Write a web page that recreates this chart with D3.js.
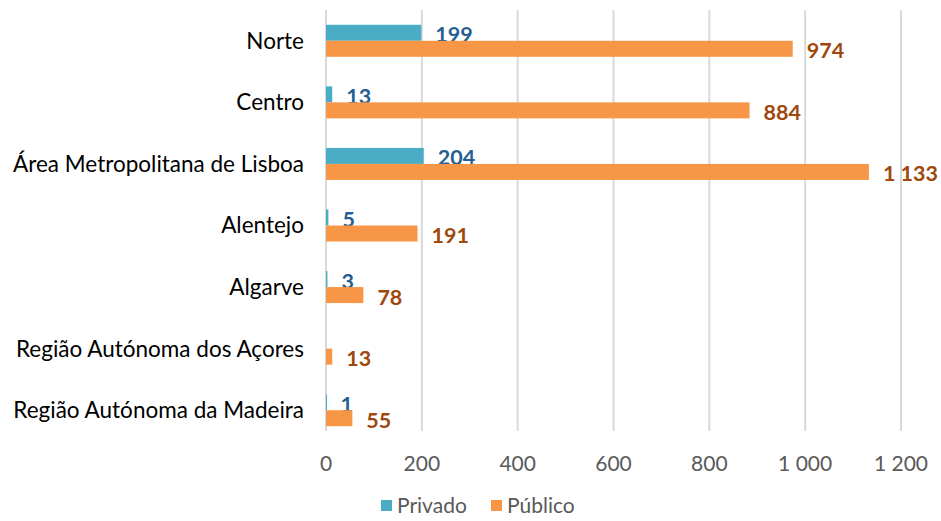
<!DOCTYPE html>
<html>
<head>
<meta charset="utf-8">
<script src="https://d3js.org/d3.v7.min.js"></script>
<style>
  body { margin: 0; background: #fff; }
  text { font-family: Lato, "Open Sans", sans-serif; }
</style>
</head>
<body>
<div id="chart"></div>
<script>
// data
var regions = ["Norte", "Centro", "Área Metropolitana de Lisboa", "Alentejo", "Algarve",
  "Região Autónoma dos Açores", "Região Autónoma da Madeira"];
var privado = [199, 13, 204, 5, 3, 0, 1];
var publico = [974, 884, 1133, 191, 78, 13, 55];
var seriesNames = ["Privado", "Público"];
var xTicks = [0, 200, 400, 600, 800, 1000, 1200];

var width = 941, height = 521;
var margin = {top: 10, right: 40, bottom: 86, left: 326};

var barColors = ["#4BACC6", "#F79646"];
var labelColors = ["#255E91", "#9E480E"];

var svg = d3.select("#chart").append("svg")
  .attr("width", width)
  .attr("height", height);

var x = d3.scaleLinear()
  .domain([0, 1200])
  .range([margin.left, margin.left + 575]);

var y = d3.scaleBand()
  .domain(regions)
  .range([margin.top, height - margin.bottom + 6])
  .paddingInner(0.48)
  .paddingOuter(0.24);

var sub = d3.scaleBand()
  .domain(seriesNames)
  .range([0, y.bandwidth()]);

function fmt(v) {
  return d3.format(",")(v).replace(/,/g, " ");
}

// gridlines
svg.append("g")
  .selectAll("line")
  .data(xTicks)
  .enter().append("line")
  .attr("x1", function(d) { return x(d); })
  .attr("x2", function(d) { return x(d); })
  .attr("y1", margin.top)
  .attr("y2", 431)
  .attr("stroke", "#D9D9D9")
  .attr("stroke-width", 2);

// x tick labels
svg.append("g")
  .selectAll("text")
  .data(xTicks)
  .enter().append("text")
  .attr("x", function(d) { return x(d); })
  .attr("y", 471)
  .attr("text-anchor", "middle")
  .attr("font-size", 21)
  .attr("fill", "#595959")
  .text(fmt);

// category labels
svg.append("g")
  .selectAll("text")
  .data(regions)
  .enter().append("text")
  .attr("x", 304)
  .attr("y", function(d) { return y(d) + y.bandwidth() / 2; })
  .attr("dy", "0.35em")
  .attr("text-anchor", "end")
  .attr("font-size", 22.5)
  .attr("fill", "#000")
  .text(function(d) { return d; });

var series = [privado, publico];

series.forEach(function(vals, si) {
  var g = svg.append("g");
  var rows = regions.map(function(r, i) { return {r: r, v: vals[i]}; });

  g.selectAll("rect")
    .data(rows.filter(function(d) { return d.v > 0; }))
    .enter().append("rect")
    .attr("x", x(0))
    .attr("y", function(d) { return y(d.r) + sub(seriesNames[si]); })
    .attr("width", function(d) { return Math.max(x(d.v) - x(0), 1); })
    .attr("height", sub.bandwidth())
    .attr("fill", barColors[si]);

  g.selectAll("text")
    .data(rows.filter(function(d) { return d.v > 0; }))
    .enter().append("text")
    .attr("x", function(d) { return x(d.v) + 14; })
    .attr("y", function(d) { return y(d.r) + sub(seriesNames[si]) + sub.bandwidth() / 2 + 2; })
    .attr("dy", "0.35em")
    .attr("font-size", 21.5)
    .attr("font-weight", "bold")
    .attr("fill", labelColors[si])
    .text(function(d) { return fmt(d.v); });
});

// legend
var legend = svg.append("g").attr("transform", "translate(381,500)");
var lx = [0, 110];
seriesNames.forEach(function(name, i) {
  legend.append("rect")
    .attr("x", lx[i])
    .attr("y", 0)
    .attr("width", 11)
    .attr("height", 11)
    .attr("fill", barColors[i]);
  legend.append("text")
    .attr("x", lx[i] + 16)
    .attr("y", 6)
    .attr("dy", "0.35em")
    .attr("font-size", 21)
    .attr("fill", "#595959")
    .text(name);
});
</script>
</body>
</html>
